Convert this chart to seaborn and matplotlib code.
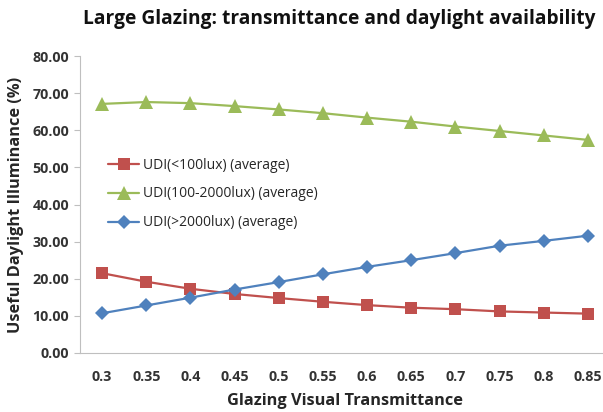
import numpy as np
import pandas as pd
import matplotlib
matplotlib.use("Agg")
import matplotlib.pyplot as plt
import seaborn as sns

transmittance = ["0.3", "0.35", "0.4", "0.45", "0.5", "0.55", "0.6", "0.65", "0.7", "0.75", "0.8", "0.85"]
udi_low = [21.5, 19.2, 17.3, 15.9, 14.8, 13.8, 12.9, 12.2, 11.8, 11.2, 10.9, 10.6]
udi_mid = [67.1, 67.6, 67.3, 66.5, 65.6, 64.6, 63.4, 62.3, 61.0, 59.8, 58.6, 57.4]
udi_high = [10.7, 12.8, 14.9, 17.1, 19.1, 21.2, 23.2, 25.0, 26.9, 28.9, 30.2, 31.6]

series = [
    ("UDI(<100lux) (average)", udi_low, "#C0504D", "s", 8.5),
    ("UDI(100-2000lux) (average)", udi_mid, "#9BBB59", "^", 9.5),
    ("UDI(>2000lux) (average)", udi_high, "#4F81BD", "D", 7),
]

sns.set_style("white")
plt.rcParams['font.family'] = ['Open Sans', 'DejaVu Sans']

fig = plt.figure(figsize=(6.03, 4.12), dpi=100)
ax = fig.add_axes([80 / 603, 1 - 353 / 412, 530 / 603, 297 / 412])

for name, vals, color, marker, ms in series:
    df = pd.DataFrame({'x': transmittance, 'y': vals})
    sns.lineplot(data=df, x='x', y='y', ax=ax, color=color, marker=marker,
                 markersize=ms, markeredgewidth=0, linewidth=1.6, label=name)

ax.set_xlim(-0.5, 11.5)
ax.set_ylim(0, 80)
ax.set_yticks(np.arange(0, 81, 10))
ax.set_yticklabels([f"{v:.2f}" for v in np.arange(0, 81, 10)])

for lab in ax.get_xticklabels() + ax.get_yticklabels():
    lab.set_fontweight('bold')
    lab.set_fontsize(10.3)
    lab.set_color('#333333')

ax.tick_params(axis='y', which='both', left=True, length=4, color='#BFBFBF', pad=4)
ax.tick_params(axis='x', bottom=False, pad=9)

for s in ['top', 'right']:
    ax.spines[s].set_visible(False)
ax.spines['left'].set_color('#BFBFBF')
ax.spines['bottom'].set_color('#BFBFBF')

fig.text(0.562, 0.955, "Large Glazing: transmittance and daylight availability",
         fontsize=13.8, fontweight='bold', ha='center', va='center', color='#111111')
ax.set_xlabel("Glazing Visual Transmittance", fontsize=11.8, fontweight='bold', labelpad=6)
ax.set_ylabel("Useful Daylight Illuminance (%)", fontsize=11.8, fontweight='bold', labelpad=6)

leg = ax.legend(loc='upper left', bbox_to_anchor=(0.03, 0.70), frameon=False,
                fontsize=10, handlelength=2.2, labelspacing=1.0, handletextpad=0.3)

fig.savefig("out.png", dpi=100)
